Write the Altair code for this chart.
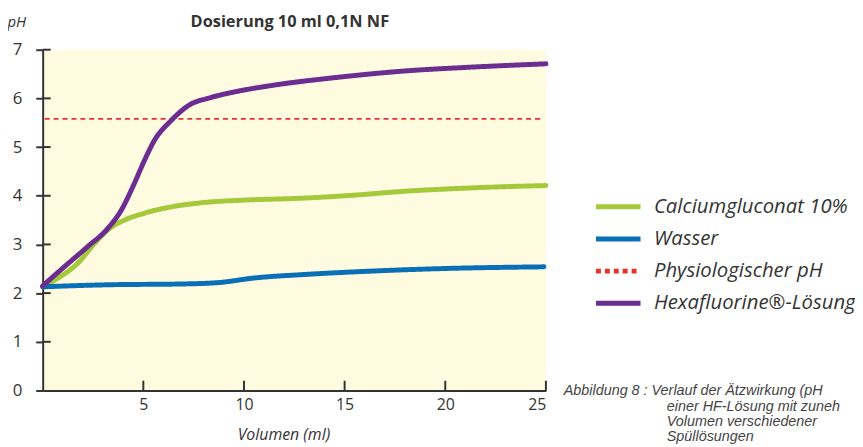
import altair as alt
import pandas as pd

# ---- data ----
series_names = ["Calciumgluconat 10%", "Wasser", "Physiologischer pH", "Hexafluorine®-Lösung"]
series_colors = ["#a5c93a", "#0a70b6", "#e8322d", "#6b2d90"]

calcium_x = [0, 0.77, 1.76, 2.58, 3.24, 4.06, 5.05, 6.37, 8.0, 9.98, 12.9, 15.4, 17.9, 21.2, 25]
calcium_y = [2.13, 2.31, 2.62, 3.02, 3.30, 3.50, 3.64, 3.77, 3.86, 3.91, 3.95, 4.01, 4.09, 4.16, 4.21]

wasser_x = [0, 3.08, 7.19, 8.83, 10.5, 12.9, 16.2, 19.5, 24.9]
wasser_y = [2.13, 2.17, 2.19, 2.22, 2.31, 2.38, 2.45, 2.50, 2.54]

physio_x = [0.1, 24.9]
physio_y = [5.58, 5.58]

hexa_x = [0, 1.1, 2.25, 3.24, 3.9, 4.55, 5.05, 5.54, 6.37, 7.35, 8.2, 9.5, 11.3, 14.6, 17.9, 21.2, 25]
hexa_y = [2.15, 2.55, 2.96, 3.33, 3.70, 4.25, 4.72, 5.13, 5.54, 5.88, 6.0, 6.13, 6.26, 6.43, 6.56, 6.64, 6.71]

x_ticks = [5, 10, 15, 20, 25]
y_ticks = [1, 2, 3, 4, 5, 6, 7]

title_text = "Dosierung 10 ml 0,1N NF"
x_title = "Volumen (ml)"
y_title = "pH"
caption_first = "Abbildung 8 : Verlauf der Ätzwirkung (pH"
caption_rest = ["einer HF-Lösung mit zuneh", "Volumen verschiedener", "Spüllösungen"]

# ---- build tables ----
rows = []
for name, xs, ys in [
    (series_names[0], calcium_x, calcium_y),
    (series_names[1], wasser_x, wasser_y),
    (series_names[3], hexa_x, hexa_y),
]:
    for i, (a, b) in enumerate(zip(xs, ys)):
        rows.append({"serie": name, "vol": a, "ph": b, "ord": i})
df = pd.DataFrame(rows)
df_physio = pd.DataFrame({"serie": series_names[2], "vol": physio_x, "ph": physio_y})

W, H = 508, 344
xscale = alt.Scale(domain=[0, 25], nice=False, zero=False)
yscale = alt.Scale(domain=[0, 7], nice=False)

color_enc = alt.Color("serie:N", scale=alt.Scale(domain=series_names, range=series_colors),
                      legend=alt.Legend(title=None, orient="none", legendX=556, legendY=143,
                                        symbolType="stroke", symbolSize=2025, symbolStrokeWidth=5,
                                        clipHeight=31, rowPadding=1.5, labelOffset=11,
                                        labelFont="Open Sans", labelFontStyle="italic",
                                        labelFontSize=20.5, labelColor="#333333", padding=0,
                                        labelLimit=400))
dash_enc = alt.StrokeDash("serie:N", scale=alt.Scale(domain=series_names,
                          range=[[1, 0], [1, 0], [5, 4], [1, 0]]), legend=None)

x_enc = alt.X("vol:Q", scale=xscale,
              axis=alt.Axis(values=x_ticks, ticks=False, tickSize=0, labelPadding=6,
                            labelFontSize=16, labelColor="#333333", labelFont="Open Sans",
                            domainColor="#333333", domainWidth=2, grid=False,
                            title=x_title, titleFont="Open Sans", titleFontStyle="italic",
                            titleFontWeight="normal", titleFontSize=16, titleColor="#333333",
                            titleX=243, titleY=49, titleBaseline="alphabetic", titleAnchor="start",
                            titleAlign="center"))
y_enc = alt.Y("ph:Q", scale=yscale,
              axis=alt.Axis(values=list(range(0, 8)), tickSize=7, tickWidth=2, tickColor="#333333",
                            labelPadding=14, labelFontSize=17, labelColor="#333333", labelFont="Open Sans",
                            domainColor="#333333", domainWidth=2, grid=False,
                            title=y_title, titleAngle=0, titleX=-36, titleY=-23,
                            titleAlign="left", titleBaseline="alphabetic", titleAnchor="start",
                            titleFont="Open Sans", titleFontStyle="italic", titleFontWeight="normal",
                            titleFontSize=15, titleColor="#333333"))

physio_layer = alt.Chart(df_physio).mark_line(strokeWidth=1.6).encode(
    x=x_enc, y=y_enc, color=color_enc, strokeDash=dash_enc)

lines = alt.Chart(df).mark_line(interpolate="monotone", strokeCap="round", strokeWidth=5).encode(
    x=alt.X("vol:Q", scale=xscale), y=alt.Y("ph:Q", scale=yscale),
    color=color_enc, strokeDash=dash_enc, order="ord:Q")

xtick_df = pd.DataFrame({"vol": x_ticks, "y0": [0] * len(x_ticks), "y1": [0.2] * len(x_ticks)})
xticks_layer = alt.Chart(xtick_df).mark_rule(color="#333333", strokeWidth=2).encode(
    x=alt.X("vol:Q", scale=xscale), y=alt.Y("y0:Q", scale=yscale), y2="y1:Q")

ytick_df = pd.DataFrame({"ph": y_ticks, "x0": [0] * len(y_ticks), "x1": [0.4] * len(y_ticks)})
yticks_layer = alt.Chart(ytick_df).mark_rule(color="#333333", strokeWidth=2).encode(
    y=alt.Y("ph:Q", scale=yscale), x=alt.X("x0:Q", scale=xscale), x2="x1:Q")

title_layer = alt.Chart(pd.DataFrame({"t": [title_text]})).mark_text(
    align="center", baseline="alphabetic", font="Open Sans", fontWeight="bold",
    fontSize=16.5, color="#333333").encode(text="t:N", x=alt.value(249.5), y=alt.value(-23))

cap1 = alt.Chart(pd.DataFrame({"t": [caption_first]})).mark_text(
    align="left", baseline="alphabetic", font="Liberation Sans", fontStyle="italic",
    fontSize=14.5, color="#444444").encode(text="t:N", x=alt.value(526), y=alt.value(349))

cap2 = alt.Chart(pd.DataFrame({"t": ["\n".join(caption_rest)]})).mark_text(
    align="left", baseline="alphabetic", font="Liberation Sans", fontStyle="italic",
    fontSize=14.5, color="#444444", lineBreak="\n", lineHeight=15.3).encode(
    text="t:N", x=alt.value(630), y=alt.value(364.3))

chart = alt.layer(physio_layer, yticks_layer, xticks_layer, lines, title_layer, cap1, cap2).properties(
    width=W, height=H,
    autosize=alt.AutoSizeParams(type="none"),
    padding={"left": 35, "top": 40, "right": 312, "bottom": 60},
).configure_view(fill="#fffbe0", stroke=None)

chart.save("out.html", embed_options={"renderer": "svg", "actions": False})
